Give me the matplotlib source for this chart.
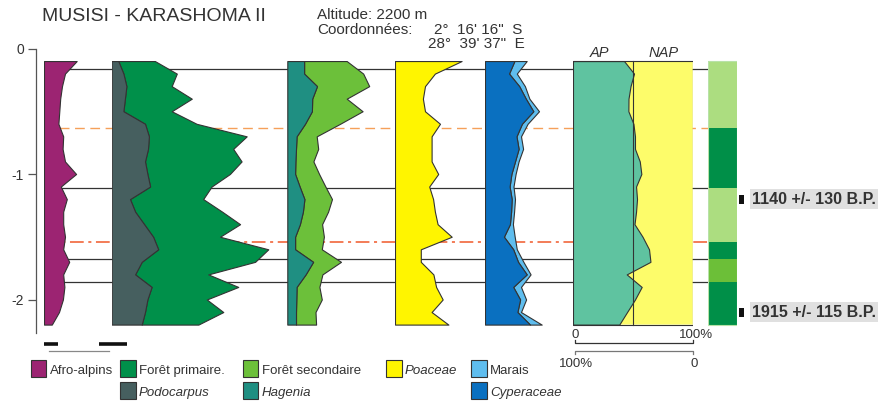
import matplotlib
matplotlib.use("Agg")
import matplotlib.pyplot as plt
from matplotlib.patches import Rectangle
from matplotlib.transforms import blended_transform_factory

plt.rcParams['font.family'] = ['Liberation Sans', 'DejaVu Sans']
plt.rcParams['axes.unicode_minus'] = False

# sample depths (m) every 10 cm
depth = [-0.1, -0.2, -0.3, -0.4, -0.5, -0.6, -0.7, -0.8, -0.9, -1.0, -1.1,
         -1.2, -1.3, -1.4, -1.5, -1.6, -1.7, -1.8, -1.9, -2.0, -2.1, -2.2]

# pollen percentages
afro_alpins = [10.9, 7.0, 6.0, 5.4, 5.1, 4.8, 6.4, 6.2, 7.0, 10.7, 5.6,
               7.6, 6.4, 6.4, 7.0, 6.4, 8.4, 6.4, 6.8, 6.3, 5.0, 2.6]
podocarpus = [2.2, 3.9, 4.9, 4.4, 3.9, 11.1, 12.4, 12.1, 11.1, 11.9, 12.8,
              6.1, 7.8, 10.8, 13.8, 15.5, 10.0, 7.8, 13.3, 11.9, 11.1, 10.0]
foret_primaire = [12.2, 17.8, 15.1, 22.3, 16.1, 17.2, 32.6, 28.4, 32.2, 27.5, 20.5,
                  24.4, 29.0, 32.0, 22.3, 36.7, 37.8, 24.4, 28.9, 19.8, 26.1, 18.9]
hagenia = [5.6, 5.6, 9.9, 8.3, 8.2, 5.9, 3.1, 2.9, 2.7, 2.6, 4.1,
           5.7, 5.2, 4.2, 2.6, 2.6, 8.6, 6.1, 3.1, 3.0, 2.9, 2.9]
foret_secondaire = [14.2, 19.7, 17.4, 11.5, 16.9, 11.7, 6.7, 7.4, 6.0, 8.0, 8.6,
                    9.2, 8.4, 7.4, 9.6, 8.9, 9.3, 5.6, 7.6, 8.5, 6.5, 6.7]
poaceae = [22.2, 13.3, 10.0, 9.3, 10.0, 15.0, 12.2, 12.2, 12.2, 14.4, 11.4,
           12.7, 13.3, 14.2, 18.9, 8.6, 8.6, 12.8, 13.7, 15.9, 12.2, 17.8]
cyperaceae = [9.8, 8.0, 11.4, 13.6, 16.1, 12.3, 10.5, 11.2, 10.0, 8.8, 8.2,
              8.9, 8.7, 8.3, 6.3, 9.4, 11.0, 13.9, 9.4, 11.7, 10.8, 15.0]
marais = [4.1, 2.6, 1.9, 1.2, 1.9, 1.9, 1.5, 1.5, 1.2, 1.4, 1.3,
          1.1, 1.0, 1.0, 3.6, 1.2, 1.8, 1.3, 2.6, 2.0, 1.2, 3.9]
ap = [42.8, 51.1, 48.2, 46.5, 46.4, 50.6, 51.9, 51.9, 55.9, 57.2, 52.8,
      53.6, 52.8, 51.5, 58.2, 63.6, 64.8, 45.0, 57.5, 51.9, 45.3, 38.8]

# pollen zones and their limits
zone_edges = [-0.1, -0.63, -1.115, -1.54, -1.68, -1.86, -2.2]
zone_colors = ['#acdd80', '#008f48', '#acdd80', '#008f48', '#6cbf38', '#008f48']
limit_depths = [-0.16, -0.63, -1.115, -1.54, -1.68, -1.86]
limit_kinds = ['solid', 'dash', 'solid', 'dashdot', 'solid', 'solid']

date_depths = [-1.2, -2.1]
date_labels = ['1140 +/- 130 B.P.', '1915 +/- 115 B.P.']

C_AFRO = '#9c2472'
C_PODO = '#465f5f'
C_PRIM = '#00904a'
C_SEC = '#6cc03a'
C_HAG = '#1f8f82'
C_POA = '#fff500'
C_CYP = '#0a70c0'
C_MAR = '#5fbdee'
C_AP = '#5fc3a0'
C_NAP = '#fdfc6a'
EDGE = '#333333'
TXT = '#333333'

W, H = 882, 405
Y0 = 48.5        # pixel row of depth 0
PX_M = 125.5     # pixels per metre
YMIN = -2.27
PX_PCT = 3.0     # pixels per percent on the taxa panels

fig = plt.figure(figsize=(W / 100, H / 100), dpi=100)


def add_axes_px(x0, width, zorder=2):
    bottom = Y0 - YMIN * PX_M
    ax = fig.add_axes([x0 / W, 1 - bottom / H, width / W, (bottom - Y0) / H])
    ax.set_ylim(YMIN, 0)
    ax.patch.set_alpha(0)
    ax.set_zorder(zorder)
    return ax


def taxon_panel(x0, width):
    ax = add_axes_px(x0, width)
    ax.set_xlim(0, width / PX_PCT)
    ax.axis('off')
    return ax


# background: depth axis and zone limits
bg = add_axes_px(36, 674, zorder=1)
bg.set_xlim(36, 710)
for s in ['top', 'right', 'bottom']:
    bg.spines[s].set_visible(False)
bg.spines['left'].set_color('#555555')
bg.spines['left'].set_linewidth(0.9)
bg.set_xticks([])
bg.set_yticks([0, -1, -2])
bg.set_yticklabels(['0', '-1', '-2'])
bg.tick_params(axis='y', direction='out', length=5.8, width=0.9, color='#555555',
               labelsize=10, labelcolor=TXT, pad=3)
for d, kind in zip(limit_depths, limit_kinds):
    if kind == 'solid':
        bg.hlines(d, 44, 708, color=EDGE, lw=0.9)
    elif kind == 'dash':
        bg.hlines(d, 44, 708, color='#f5a05a', lw=1.0, linestyles=(0, (7, 4)))
    else:
        bg.hlines(d, 44, 708, color='#f0582a', lw=1.1, linestyles=(0, (9, 3, 2, 3)))

lw = 0.8

# Afro-alpins
ax1 = taxon_panel(44, 40)
ax1.fill_betweenx(depth, 0, afro_alpins, facecolor=C_AFRO, edgecolor=EDGE, lw=lw)

# Podocarpus + Foret primaire
ax2 = taxon_panel(111.7, 165)
prim_top = [p + f for p, f in zip(podocarpus, foret_primaire)]
ax2.fill_betweenx(depth, podocarpus, prim_top, facecolor=C_PRIM, edgecolor=EDGE, lw=lw)
ax2.fill_betweenx(depth, 0, podocarpus, facecolor=C_PODO, edgecolor=EDGE, lw=lw)

# Hagenia + Foret secondaire
ax3 = taxon_panel(287.3, 90)
sec_top = [h + f for h, f in zip(hagenia, foret_secondaire)]
ax3.fill_betweenx(depth, hagenia, sec_top, facecolor=C_SEC, edgecolor=EDGE, lw=lw)
ax3.fill_betweenx(depth, 0, hagenia, facecolor=C_HAG, edgecolor=EDGE, lw=lw)

# Poaceae
ax4 = taxon_panel(395, 75)
ax4.fill_betweenx(depth, 0, poaceae, facecolor=C_POA, edgecolor=EDGE, lw=lw)

# Cyperaceae + Marais
ax5 = taxon_panel(485, 65)
mar_top = [c + m for c, m in zip(cyperaceae, marais)]
ax5.fill_betweenx(depth, cyperaceae, mar_top, facecolor=C_MAR, edgecolor=EDGE, lw=lw)
ax5.fill_betweenx(depth, 0, cyperaceae, facecolor=C_CYP, edgecolor=EDGE, lw=lw)

# AP / NAP
ax6 = add_axes_px(572.7, 120)
ax6.set_xlim(0, 100)
ax6.axis('off')
ax6.fill_betweenx(depth, ap, 100, facecolor=C_NAP, edgecolor='none')
ax6.fill_betweenx(depth, 0, ap, facecolor=C_AP, edgecolor=EDGE, lw=lw)
ax6.add_patch(Rectangle((0, depth[-1]), 100, depth[0] - depth[-1],
                        fill=False, edgecolor=EDGE, lw=lw))
ax6.plot([50, 50], [depth[0], depth[-1]], color=EDGE, lw=lw)

# pollen zones
ax7 = add_axes_px(708, 29)
ax7.set_xlim(0, 1)
ax7.axis('off')
for i, c in enumerate(zone_colors):
    ax7.axhspan(zone_edges[i + 1], zone_edges[i], color=c, lw=0)
ax7.add_patch(Rectangle((0, zone_edges[-1]), 1, zone_edges[0] - zone_edges[-1],
                        fill=False, edgecolor='#b8e2a8', lw=0.8))

# radiocarbon dates
ax8 = add_axes_px(736, 146, zorder=3)
ax8.set_xlim(736, 882)
ax8.axis('off')
for d, lab in zip(date_depths, date_labels):
    ax8.add_patch(Rectangle((739, d - 0.036), 5, 0.072, color='#111111', lw=0))
    ax8.text(752, d, lab, fontsize=11.5, fontweight='bold', color=TXT, va='center',
             ha='left', bbox=dict(boxstyle='square,pad=0.15', facecolor='#e0e0e0',
                                  edgecolor='none'))

# overlay in pixel units for titles, legend and scales
ov = fig.add_axes([0, 0, 1, 1])
ov.set_xlim(0, W)
ov.set_ylim(H, 0)
ov.axis('off')
ov.patch.set_alpha(0)
ov.set_zorder(4)

ov.text(42, 21, 'MUSISI - KARASHOMA II', fontsize=14, color=TXT, va='baseline')
ov.text(317, 19, 'Altitude: 2200 m', fontsize=11, color=TXT, va='baseline')
ov.text(317, 34.3, 'Coordonnées:', fontsize=11, color=TXT, va='baseline')
ov.text(434, 34.3, '2°  16\' 16"  S', fontsize=11, color=TXT, va='baseline')
ov.text(427.7, 47.7, '28°  39\' 37"  E', fontsize=11, color=TXT, va='baseline')

# AP / NAP headers and percentage scales
tr = blended_transform_factory(ax6.transData, ov.transData)
ov.text(22, 56.7, 'AP', transform=tr, fontsize=10.5, style='italic', color=TXT,
        ha='center', va='baseline')
ov.text(76, 56.7, 'NAP', transform=tr, fontsize=10.5, style='italic', color=TXT,
        ha='center', va='baseline')
ov.text(2, 337.5, '0', transform=tr, fontsize=9.5, color=TXT, ha='center', va='baseline')
ov.text(103, 337.5, '100%', transform=tr, fontsize=9.5, color=TXT, ha='center', va='baseline')
ov.plot([2, 2, 100, 100], [340, 343.3, 343.3, 340], transform=tr, color=EDGE, lw=0.9)
ov.plot([2, 2, 100, 100], [354, 350.7, 350.7, 354], transform=tr, color='#777777', lw=0.9)
ov.text(3, 366.7, '100%', transform=tr, fontsize=9.5, color=TXT, ha='center', va='baseline')
ov.text(101, 366.7, '0', transform=tr, fontsize=9.5, color=TXT, ha='center', va='baseline')

# percentage scale bars under the first panels
ov.plot([44, 58], [344, 344], color='#111111', lw=2.6, solid_capstyle='butt')
ov.plot([99, 127], [344, 344], color='#111111', lw=2.6, solid_capstyle='butt')
ov.plot([49, 109], [351, 351], color='#888888', lw=0.9)

# legend
legend_items = [
    (30.7, 0, 'Afro-alpins', C_AFRO, 'normal'),
    (120, 0, 'Forêt primaire.', C_PRIM, 'normal'),
    (120, 1, 'Podocarpus', C_PODO, 'italic'),
    (242.7, 0, 'Forêt secondaire', C_SEC, 'normal'),
    (242.7, 1, 'Hagenia', C_HAG, 'italic'),
    (386, 0, 'Poaceae', C_POA, 'italic'),
    (471, 0, 'Marais', C_MAR, 'normal'),
    (471, 1, 'Cyperaceae', C_CYP, 'italic'),
]
row_top = [360, 382]
row_base = [374, 396]
for x, row, lab, col, st in legend_items:
    ov.add_patch(Rectangle((x, row_top[row]), 15.5, 17, facecolor=col,
                           edgecolor=EDGE, lw=0.8))
    ov.text(x + 19, row_base[row], lab, fontsize=9.5, style=st, color=TXT,
            va='baseline')

fig.savefig('out.png', dpi=100)
